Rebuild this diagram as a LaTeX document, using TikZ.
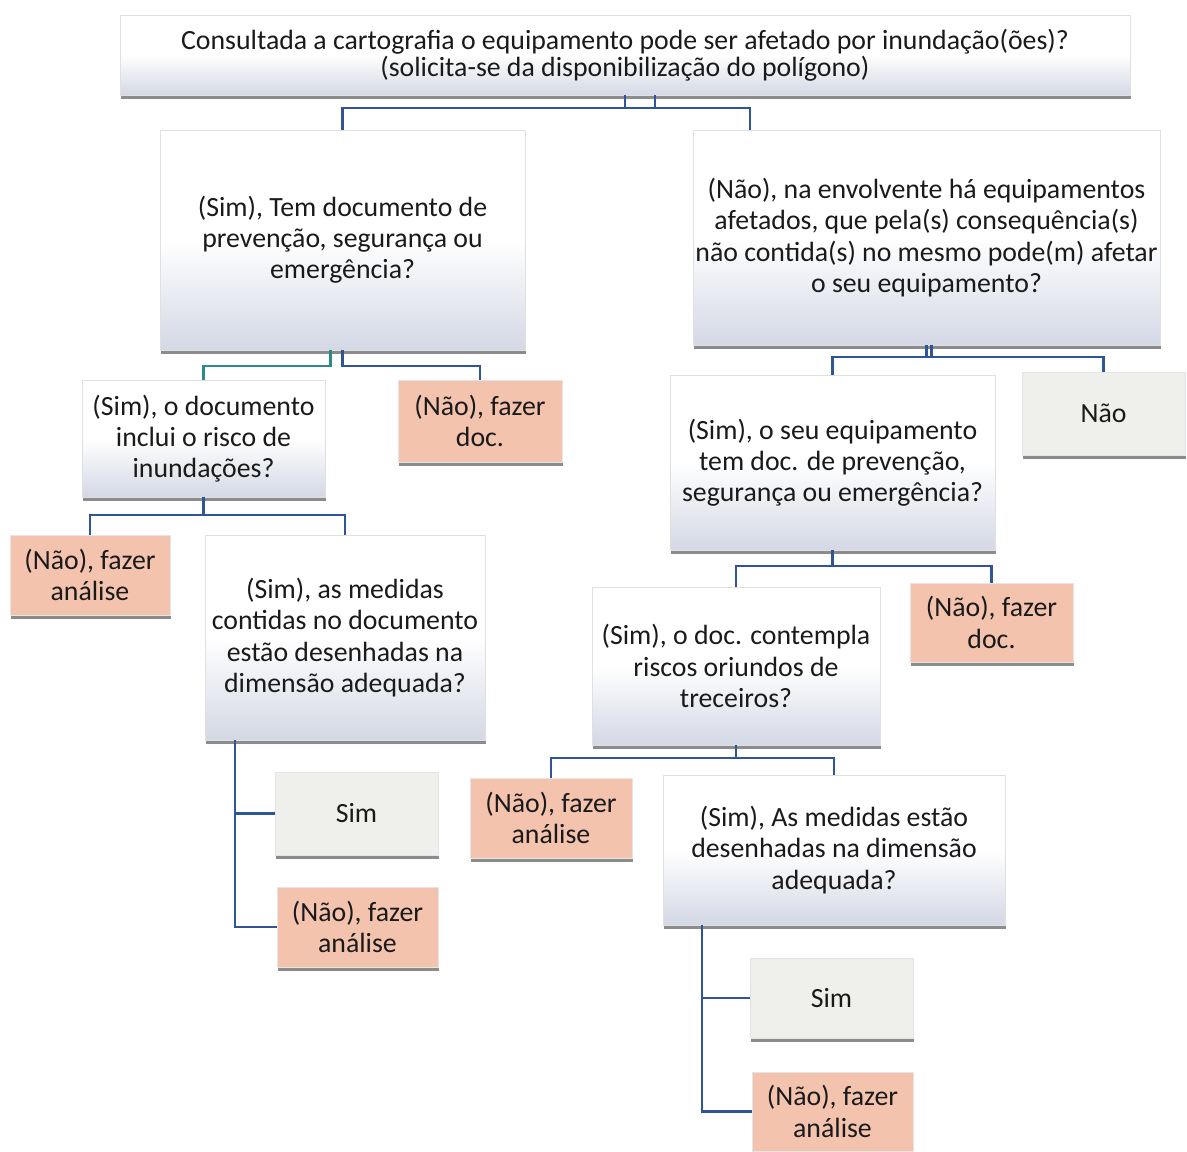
\documentclass[tikz,border=0pt]{standalone}
\usepackage{fontspec}
\setmainfont{Carlito}
\usetikzlibrary{positioning, calc, shadows}
\definecolor{linkBlue}{HTML}{2F5597}
\definecolor{linkTeal}{HTML}{2C8A8E}
\definecolor{naoFill}{HTML}{F3C3AE}
\definecolor{simFill}{HTML}{EFEFEB}
\definecolor{askBottom}{HTML}{D4D8E5}
\definecolor{shadowGray}{HTML}{6E6E6E}
\definecolor{textDark}{HTML}{1A1A1A}

\begin{document}
\begin{tikzpicture}[x=0.5pt, y=-0.5pt,
    ask/.style={rectangle, draw=black!12, line width=0.3pt, inner xsep=1pt,
                top color=white, bottom color=askBottom, middle color=white,
                drop shadow={shadow xshift=0.4pt, shadow yshift=-2pt,
                             fill=shadowGray, opacity=0.8},
                font=\fontsize{13.9}{15.6}\selectfont\color{textDark}, align=center},
    answer/.style={rectangle, draw=black!10, line width=0.3pt, inner xsep=1pt, fill=#1,
                drop shadow={shadow xshift=0.4pt, shadow yshift=-2pt,
                             fill=shadowGray, opacity=0.8},
                font=\fontsize{13.9}{15.6}\selectfont\color{textDark}, align=center},
    link/.style={draw=#1, line width=1.1pt},
    link/.default=linkBlue,
  ]
    \useasboundingbox (0,0) rectangle (1187,1151);

    % pergunta inicial
    \node[ask, minimum width=505pt, minimum height=40pt,
          font=\fontsize{13.9}{13.6}\selectfont\color{textDark}] (cart) at (625,55)
      {Consultada a cartografia o equipamento pode ser afetado por inundação(ões)?\\
       (solicita-se da disponibilização do polígono)};

    % ramo sim
    \node[ask, minimum width=182.5pt, minimum height=110pt] (temDoc) at (342.5,240)
      {(Sim), Tem documento de\\ prevenção, segurança ou\\ emergência?};
    \node[ask, minimum width=121.5pt, minimum height=58.5pt] (docRisco) at (203.5,438.5)
      {(Sim), o documento\\ inclui o risco de\\ inundações?};
    \node[answer=naoFill, minimum width=82pt, minimum height=41pt] (fazDocA) at (480,421)
      {(Não), fazer\\ doc.};
    \node[answer=naoFill, minimum width=80pt, minimum height=40pt] (fazAnA) at (90,575)
      {(Não), fazer\\ análise};
    \node[ask, minimum width=140pt, minimum height=102.5pt] (medidasA) at (345,637.5)
      {(Sim), as medidas\\ contidas no documento\\ estão desenhadas na\\ dimensão adequada?};
    \node[answer=simFill, minimum width=81.5pt, minimum height=41.5pt] (simA) at (356.5,813.5)
      {Sim};
    \node[answer=naoFill, minimum width=80.5pt, minimum height=40pt] (fazAnB) at (357.5,927)
      {(Não), fazer\\ análise};

    % ramo nao
    \node[ask, minimum width=233.5pt, minimum height=107.5pt] (envolv) at (926.5,237.5)
      {(Não), na envolvente há equipamentos\\ afetados, que pela(s) consequência(s)\\
       não contida(s) no mesmo pode(m) afetar\\ o seu equipamento?};
    \node[ask, minimum width=162.5pt, minimum height=87.5pt] (seuDoc) at (832.5,462.5)
      {(Sim), o seu equipamento\\ tem doc. de prevenção,\\ segurança ou emergência?};
    \node[answer=simFill, minimum width=81.5pt, minimum height=41.5pt] (naoFim) at (1103.5,413.5)
      {Não};
    \node[ask, minimum width=144pt, minimum height=79pt] (terceiros) at (736,666)
      {(Sim), o doc. contempla\\ riscos oriundos de\\ treceiros?};
    \node[answer=naoFill, minimum width=81.5pt, minimum height=39.5pt] (fazDocB) at (991.5,622.5)
      {(Não), fazer\\ doc.};
    \node[answer=naoFill, minimum width=81pt, minimum height=40pt] (fazAnC) at (551,818)
      {(Não), fazer\\ análise};
    \node[ask, minimum width=171pt, minimum height=75pt] (medidasB) at (834,850)
      {(Sim), As medidas estão\\ desenhadas na dimensão\\ adequada?};
    \node[answer=simFill, minimum width=81.5pt, minimum height=40pt] (simB) at (831.5,998)
      {Sim};
    \node[answer=naoFill, minimum width=80.5pt, minimum height=39.5pt] (fazAnD) at (832.5,1111.5)
      {(Não), fazer\\ análise};

    % ligacoes
    \draw[link] ($(cart.south)+(30,0)$) -- ++(0,13) -| (temDoc.north);
    \draw[link] (cart.south) -- ++(0,13) -| ($(envolv.north west)+(57,0)$);

    \draw[link=linkTeal] ($(temDoc.south)+(-12,0)$) -- ++(0,16) -| (docRisco.north);
    \draw[link] (temDoc.south) -- ++(0,16) -| (fazDocA.north);
    \draw[link] (docRisco.south) -- ++(0,18) -| (fazAnA.north);
    \draw[link] (docRisco.south) -- ++(0,18) -| (medidasA.north);
    \draw[link] ($(medidasA.south west)+(30,0)$) |- (simA.west);
    \draw[link] ($(medidasA.south west)+(30,0)$) |- (fazAnB.west);

    \draw[link] ($(envolv.south)+(5,0)$) -- ++(0,12) -| (seuDoc.north);
    \draw[link] (envolv.south) -- ++(0,12) -| (naoFim.north);
    \draw[link] (seuDoc.south) -- ++(0,16) -| (terceiros.north);
    \draw[link] (seuDoc.south) -- ++(0,16) -| (fazDocB.north);
    \draw[link] (terceiros.south) -- ++(0,13) -| (fazAnC.north);
    \draw[link] (terceiros.south) -- ++(0,13) -| (medidasB.north);
    \draw[link] ($(medidasB.south west)+(39,0)$) |- (simB.west);
    \draw[link] ($(medidasB.south west)+(39,0)$) |- (fazAnD.west);
  \end{tikzpicture}
\end{document}
